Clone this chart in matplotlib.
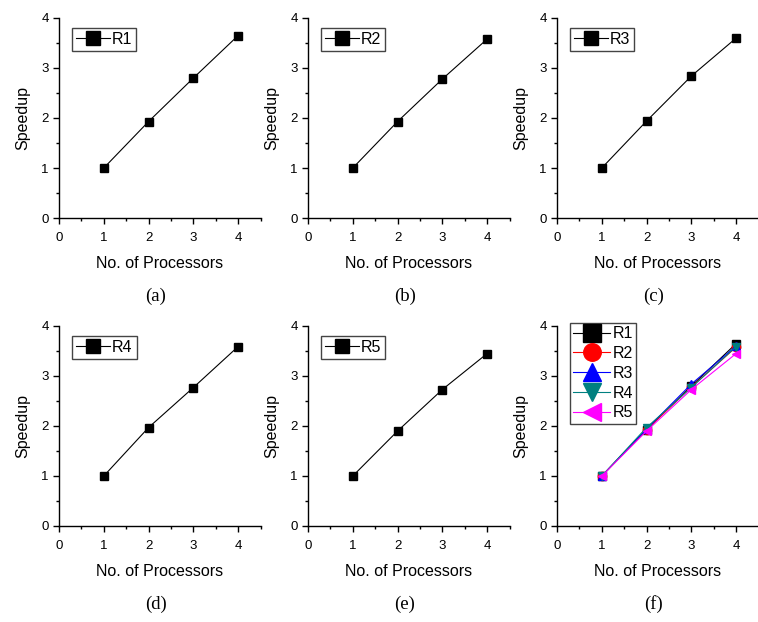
import matplotlib
matplotlib.use("Agg")
import matplotlib.pyplot as plt
from matplotlib.ticker import MultipleLocator

# datos
procesadores = [1, 2, 3, 4]
r1 = [1.0, 1.93, 2.80, 3.65]
r2 = [1.0, 1.93, 2.78, 3.58]
r3 = [1.0, 1.94, 2.84, 3.60]
r4 = [1.0, 1.97, 2.77, 3.59]
r5 = [1.0, 1.90, 2.73, 3.45]
series = [r1, r2, r3, r4, r5]
nombres = ["R1", "R2", "R3", "R4", "R5"]
letras = ["(a)", "(b)", "(c)", "(d)", "(e)", "(f)"]
colores = ["black", "red", "blue", "#008080", "magenta"]
marcadores = ["s", "o", "^", "v", "<"]

plt.rcParams["font.family"] = "Liberation Sans"

fig = plt.figure(figsize=(7.58, 6.22), dpi=100)

lefts = [59, 308, 557]
tops = [18, 326]
W, H = 758, 622
ancho = 4.5 * 44.8
alto = 200


def estilo(ax):
    for s in ["top", "right"]:
        ax.spines[s].set_visible(False)
    ax.set_xlim(0, 4.5)
    ax.set_ylim(0, 4)
    ax.xaxis.set_major_locator(MultipleLocator(1))
    ax.xaxis.set_minor_locator(MultipleLocator(0.5))
    ax.yaxis.set_major_locator(MultipleLocator(1))
    ax.yaxis.set_minor_locator(MultipleLocator(0.5))
    ax.tick_params(which="major", direction="out", length=4, width=1, labelsize=9.5)
    ax.tick_params(axis="x", which="major", pad=6)
    ax.tick_params(which="minor", direction="out", length=2.5, width=1)
    ax.set_xlabel("No. of Processors", fontsize=11.5, labelpad=9)
    ax.set_ylabel("Speedup", fontsize=11.5, labelpad=8)
    for s in ["left", "bottom"]:
        ax.spines[s].set_linewidth(1)


axes = []
for fila in range(2):
    for col in range(3):
        l = lefts[col] / W
        b = 1 - (tops[fila] + alto) / H
        ax = fig.add_axes([l, b, ancho / W, alto / H])
        estilo(ax)
        axes.append(ax)

for i in range(5):
    ax = axes[i]
    ax.plot(procesadores, series[i], color="black", linewidth=0.8,
            marker="s", markersize=6, label=nombres[i], clip_on=False)
    ax.legend(loc="upper left", bbox_to_anchor=(0.065, 0.95), fontsize=11.5,
              markerscale=1.6, fancybox=False, edgecolor="#444444", framealpha=1,
              handlelength=2.1, handletextpad=0.15, borderpad=0.25,
              borderaxespad=0)

ax = axes[5]
for i in range(5):
    ax.plot(procesadores, series[i], color=colores[i], linewidth=0.8,
            marker=marcadores[i], markersize=6, label=nombres[i], clip_on=False)
leg = ax.legend(loc="upper left", bbox_to_anchor=(0.065, 1.015), fontsize=11.5,
                markerscale=2.1, fancybox=False, edgecolor="#444444", framealpha=1,
                handlelength=2.3, handletextpad=0.15, borderpad=0.2,
                labelspacing=0.3, borderaxespad=0)

for i, ax in enumerate(axes):
    ax.text(0.48, -0.39, letras[i], transform=ax.transAxes, ha="center",
            va="center", fontsize=13.5, family="Liberation Serif")

plt.savefig("out.png", dpi=100)
